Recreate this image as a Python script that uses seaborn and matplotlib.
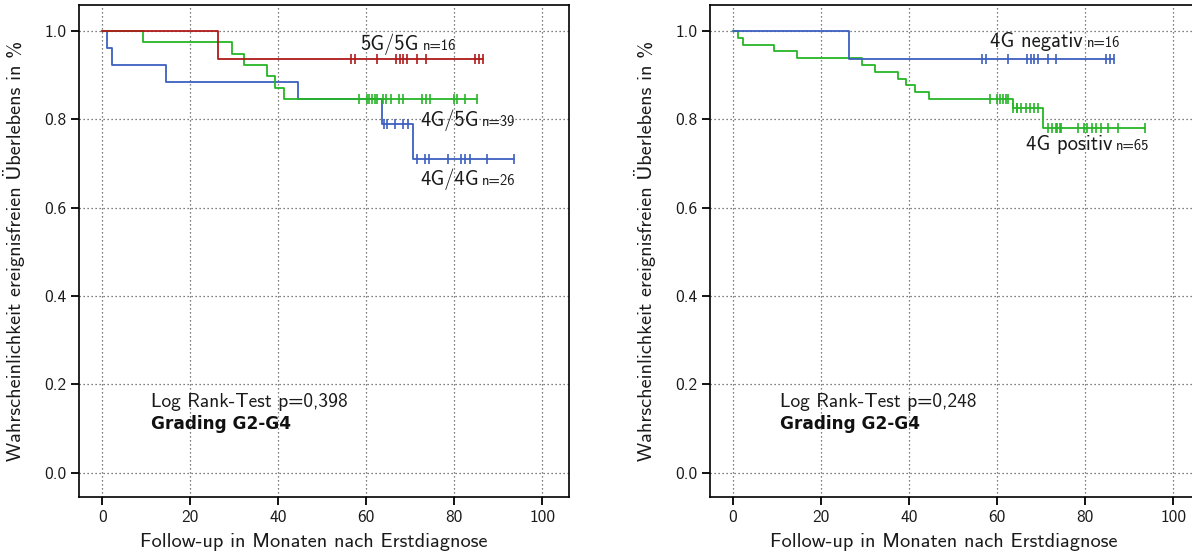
import numpy as np
import pandas as pd
import matplotlib
matplotlib.use("Agg")
import matplotlib.pyplot as plt
import seaborn as sns

# ---------------- data ----------------
x_ticks = [0, 20, 40, 60, 80, 100]
y_ticks = [0.0, 0.2, 0.4, 0.6, 0.8, 1.0]
y_tick_labels = ["0.0", "0.2", "0.4", "0.6", "0.8", "1.0"]

# Left panel: genotype groups
g55_t = [0, 26.4, 86.6]
g55_s = [1.0, 0.9375, 0.9375]
g55_c = [56.5, 57.4, 62.4, 66.8, 67.7, 68.4, 69.2, 71.6, 73.5, 84.7, 85.6, 86.6]

g45_t = [0, 9.3, 29.4, 32.3, 37.4, 39.3, 41.4, 85.1]
g45_s = [1.0, 0.974, 0.949, 0.923, 0.897, 0.872, 0.846, 0.846]
g45_c = [58.4, 60.1, 60.7, 61.4, 62.0, 62.5, 63.7, 64.5, 65.5, 67.5, 68.4,
         72.6, 73.6, 74.5, 79.8, 80.5, 82.4, 85.1]

g44_t = [0, 1.2, 2.3, 14.5, 44.5, 63.6, 70.5, 93.6]
g44_s = [1.0, 0.962, 0.923, 0.885, 0.846, 0.790, 0.711, 0.711]
g44_c = [64.0, 64.6, 66.5, 68.4, 69.4, 71.5, 73.3, 74.3, 78.5, 81.5, 82.4,
         83.6, 87.5, 93.6]

# Right panel: 4G negative / positive
neg_t = [0, 26.4, 86.6]
neg_s = [1.0, 0.9375, 0.9375]
neg_c = [56.5, 57.4, 62.4, 66.8, 67.7, 68.4, 69.2, 71.6, 73.5, 84.7, 85.6, 86.6]

pos_t = [0, 1.2, 2.3, 9.3, 14.5, 29.4, 32.3, 37.4, 39.3, 41.4, 44.5, 63.6, 70.5, 93.6]
pos_s = [1.0, 0.985, 0.969, 0.954, 0.938, 0.923, 0.908, 0.892, 0.877, 0.862,
         0.846, 0.825, 0.781, 0.781]
pos_c = [58.4, 60.1, 60.7, 61.4, 62.0, 62.5, 63.7, 64.5, 64.6, 65.5, 66.5, 67.5,
         68.4, 69.4, 71.5, 72.6, 73.3, 73.6, 74.3, 74.5, 78.5, 79.8, 80.5, 81.5,
         82.4, 83.6, 85.1, 87.5, 93.6]

p_left = "0,398"
p_right = "0,248"

# ---------------- style ----------------
sns.set_theme(style="ticks")
plt.rcParams["font.family"] = ["cmss10", "DejaVu Sans"]
plt.rcParams["axes.unicode_minus"] = False

RED = "#b01a1a"
GREEN = "#26b526"
BLUE = "#3d5fc0"
TXT = "#1a1a1a"

fig = plt.figure(figsize=(11.92, 5.58), dpi=100)
axL = fig.add_axes([0.0665, 0.1088, 0.4111, 0.8823])
axR = fig.add_axes([0.5956, 0.1088, 0.4111, 0.8823])


def km(ax, t, s, c, color):
    df = pd.DataFrame({"t": t, "s": s})
    sns.lineplot(data=df, x="t", y="s", ax=ax, color=color, lw=1.3,
                 drawstyle="steps-post", estimator=None, sort=False, zorder=3)
    t_arr = np.asarray(t)
    s_arr = np.asarray(s)
    cy = s_arr[np.searchsorted(t_arr, np.asarray(c), side="right") - 1]
    sns.scatterplot(x=c, y=cy, ax=ax, marker="|", s=42, color=color,
                    linewidth=1.2, zorder=4)


def style_axes(ax):
    ax.set_xlim(-5.2, 106.1)
    ax.set_ylim(-0.0557, 1.0589)
    ax.set_xticks(x_ticks)
    ax.set_xticklabels([str(v) for v in x_ticks])
    ax.set_yticks(y_ticks)
    ax.set_yticklabels(y_tick_labels)
    ax.grid(True, linestyle=(0, (1, 2.2)), color="#555555", lw=0.9)
    ax.set_axisbelow(True)
    for sp in ax.spines.values():
        sp.set_visible(True)
        sp.set_color("black")
        sp.set_linewidth(1.2)
    ax.tick_params(axis="both", direction="out", length=5.5, width=1.3,
                   labelsize=12.5, pad=3.5, colors="black", labelcolor=TXT,
                   bottom=True, left=True, top=False, right=False)
    ax.set_xlabel("Follow-up in Monaten nach Erstdiagnose", fontsize=14.6, color=TXT)
    ax.set_ylabel("Wahrscheinlichkeit ereignisfreien Überlebens in %", fontsize=14.6,
                  color=TXT)
    ax.xaxis.set_label_coords(0.478, -0.072)
    ax.yaxis.set_label_coords(-0.11, 0.5)


def big(ax, x, y, s):
    ax.text(x, y, s, fontsize=14.8, color=TXT, ha="left", va="baseline")


def small(ax, x, y, s):
    ax.text(x, y, s, fontsize=10.5, color=TXT, ha="left", va="baseline")


# Left panel
km(axL, g44_t, g44_s, g44_c, BLUE)
km(axL, g45_t, g45_s, g45_c, GREEN)
km(axL, g55_t, g55_s, g55_c, RED)
style_axes(axL)

big(axL, 58.6, 0.957, "5G/5G")
small(axL, 72.9, 0.957, "n=16")
big(axL, 72.2, 0.785, "4G/5G")
small(axL, 86.3, 0.785, "n=39")
big(axL, 72.2, 0.651, "4G/4G")
small(axL, 86.3, 0.651, "n=26")
axL.text(11.0, 0.149, "Log Rank-Test p=" + p_left, fontsize=14, color=TXT,
         ha="left", va="baseline")
axL.text(11.0, 0.098, "Grading G2-G4", fontsize=12.2, fontweight="bold",
         family="DejaVu Sans", color="#111111", ha="left", va="baseline")

# Right panel
km(axR, pos_t, pos_s, pos_c, GREEN)
km(axR, neg_t, neg_s, neg_c, BLUE)
style_axes(axR)

big(axR, 58.3, 0.964, "4G negativ")
small(axR, 80.5, 0.964, "n=16")
big(axR, 66.5, 0.731, "4G positiv")
small(axR, 87.0, 0.731, "n=65")
axR.text(10.7, 0.149, "Log Rank-Test p=" + p_right, fontsize=14, color=TXT,
         ha="left", va="baseline")
axR.text(10.7, 0.098, "Grading G2-G4", fontsize=12.2, fontweight="bold",
         family="DejaVu Sans", color="#111111", ha="left", va="baseline")

fig.savefig("out.png", dpi=100)
